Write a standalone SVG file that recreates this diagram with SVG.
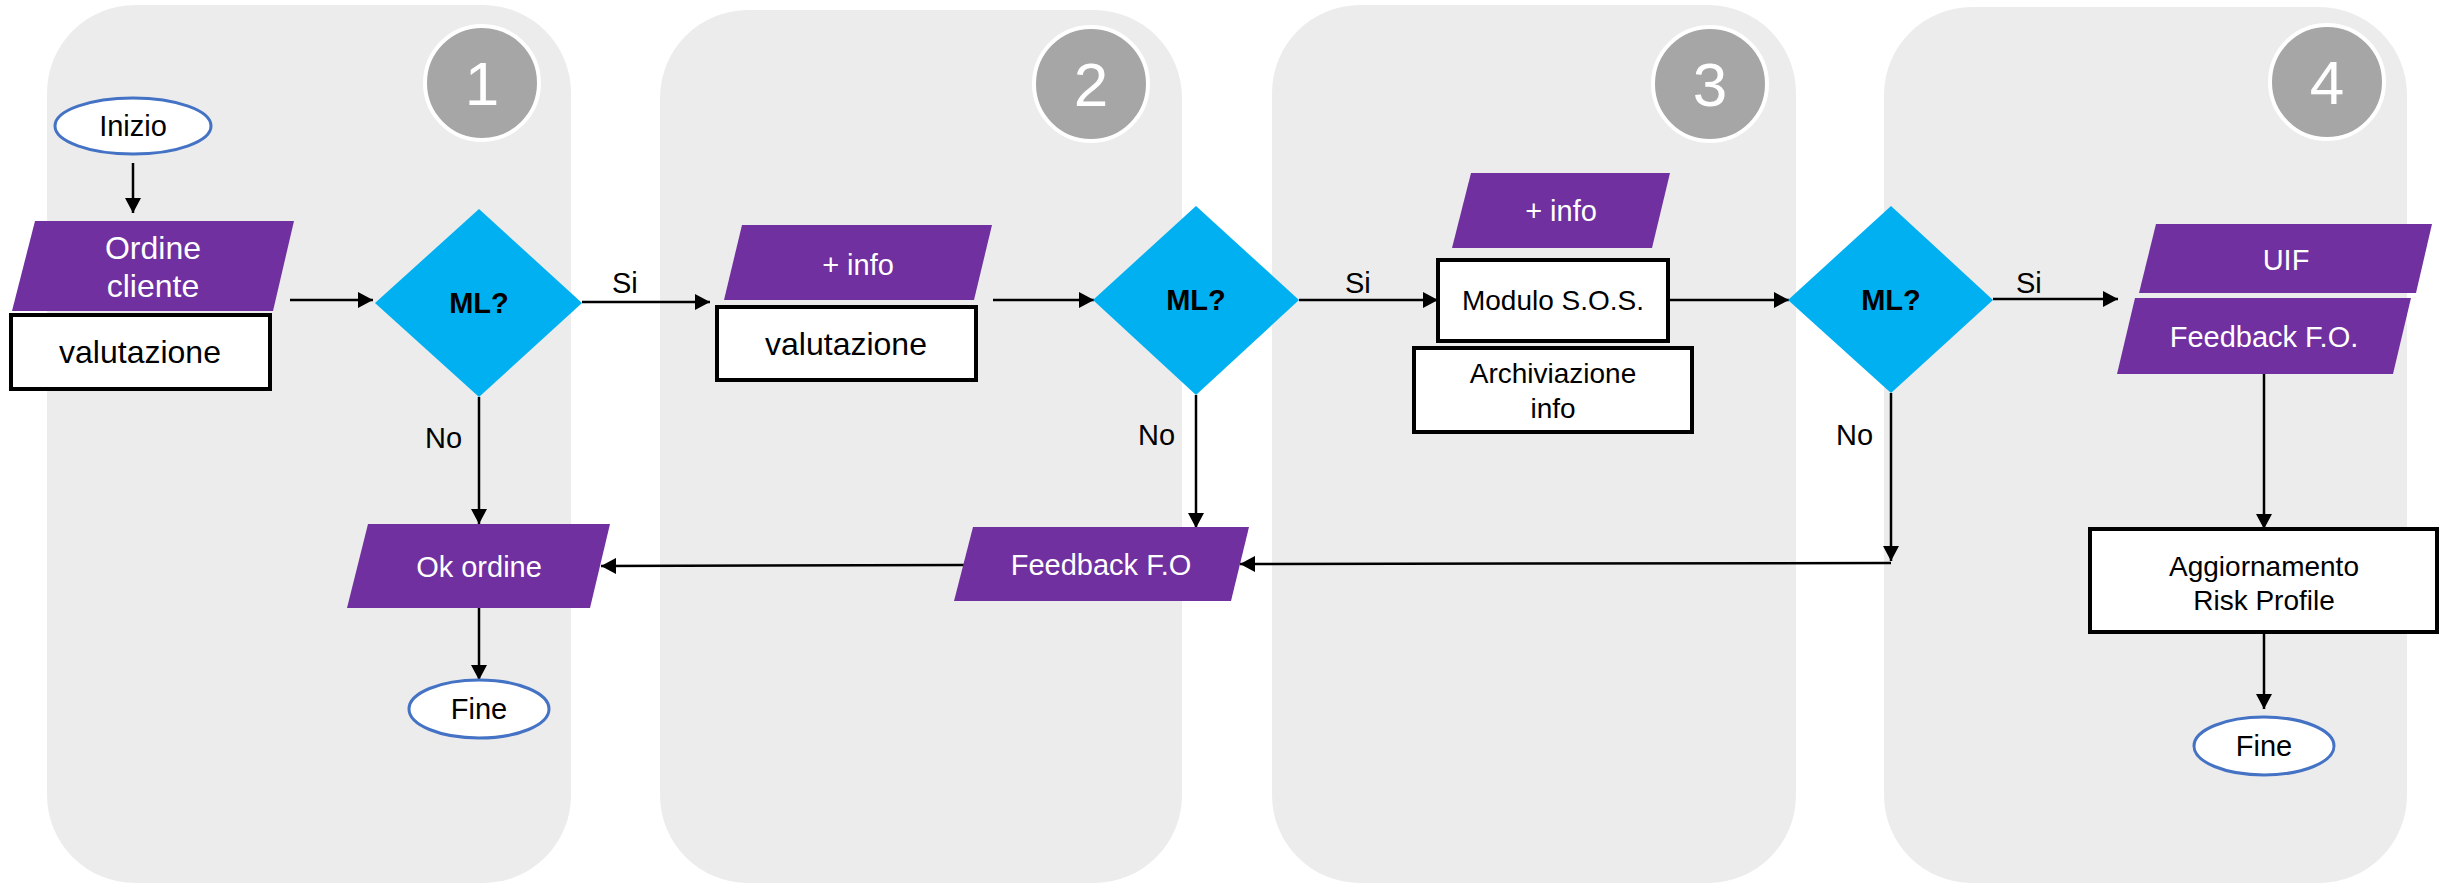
<svg xmlns="http://www.w3.org/2000/svg" width="2440" height="886" viewBox="0 0 2440 886">
<defs>
<marker id="arr" markerUnits="userSpaceOnUse" markerWidth="16" markerHeight="16" refX="15" refY="8" orient="auto">
<path d="M0,0 L15,8 L0,16 z" fill="#000"/>
</marker>
<style>
.panel{fill:#ECECEC}
.badge{fill:#A6A6A6;stroke:#fff;stroke-width:4}
.num{font-family:"Liberation Sans",Arial,sans-serif;font-size:62px;fill:#fff;text-anchor:middle}
.io{fill:#7030A0}
.proc{fill:#fff;stroke:#000;stroke-width:4}
.term{fill:#fff;stroke:#4472C4;stroke-width:3}
.dec{fill:#00B0F0}
.t{font-family:"Liberation Sans",Arial,sans-serif;font-size:29px;fill:#000;text-anchor:middle}
.w{fill:#fff}
.b{font-weight:bold}
.lbl{font-family:"Liberation Sans",Arial,sans-serif;font-size:29px;fill:#000}
.c{fill:none;stroke:#000;stroke-width:2.5;marker-end:url(#arr)}
</style>
</defs>
<g id="panels">
<rect class="panel" x="47" y="5" width="524" height="878" rx="88" ry="88"/>
<rect class="panel" x="660" y="10" width="522" height="873" rx="88" ry="88"/>
<rect class="panel" x="1272" y="5" width="524" height="878" rx="88" ry="88"/>
<rect class="panel" x="1884" y="7" width="523" height="876" rx="88" ry="88"/>
</g>
<g id="badge1"><circle class="badge" cx="482" cy="83" r="57"/><text class="num" x="482" y="105">1</text></g>
<g id="badge2"><circle class="badge" cx="1091" cy="84" r="57"/><text class="num" x="1091" y="106">2</text></g>
<g id="badge3"><circle class="badge" cx="1710" cy="84" r="57"/><text class="num" x="1710" y="106">3</text></g>
<g id="badge4"><circle class="badge" cx="2327" cy="82" r="57"/><text class="num" x="2327" y="104">4</text></g>

<g id="connectors">
<path class="c" d="M133,163 L133,213"/>
<path class="c" d="M290,300 L373,300"/>
<path class="c" d="M582,302 L710,302"/>
<path class="c" d="M479,397 L479,524"/>
<path class="c" d="M479,608 L479,680"/>
<path class="c" d="M993,300 L1094,300"/>
<path class="c" d="M1299,300 L1438,300"/>
<path class="c" d="M1196,395 L1196,528"/>
<path class="c" d="M964,565 L601,566"/>
<path class="c" d="M1669,300 L1789,300"/>
<path class="c" d="M1993,299 L2118,299"/>
<path class="c" d="M1891,393 L1891,561"/>
<path class="c" d="M1891,563 L1240,564"/>
<path class="c" d="M2264,374 L2264,529"/>
<path class="c" d="M2264,632 L2264,709"/>
<text class="lbl" x="612" y="293">Si</text>
<text class="lbl" x="1345" y="293">Si</text>
<text class="lbl" x="2016" y="293">Si</text>
<text class="lbl" x="425" y="448">No</text>
<text class="lbl" x="1138" y="445">No</text>
<text class="lbl" x="1836" y="445">No</text>
</g>

<g id="inizio"><ellipse class="term" cx="133" cy="126" rx="78" ry="28"/><text class="t" x="133" y="136">Inizio</text></g>
<g id="ordine-cliente"><polygon class="io" points="35,221 294,221 273,311 12,311"/><text class="t w" style="font-size:32px" x="153" y="259">Ordine</text><text class="t w" style="font-size:32px" x="153" y="297">cliente</text></g>
<g id="valutazione1"><rect class="proc" x="11" y="315" width="259" height="74"/><text class="t" style="font-size:32px" x="140" y="363">valutazione</text></g>
<g id="ml1"><polygon class="dec" points="479,209 582,303 479,397 375,303"/><text class="t b" x="479" y="313">ML?</text></g>
<g id="ok-ordine"><polygon class="io" points="368,524 610,524 590,608 347,608"/><text class="t w" x="479" y="577">Ok ordine</text></g>
<g id="fine1"><ellipse class="term" cx="479" cy="709" rx="70" ry="29"/><text class="t" x="479" y="719">Fine</text></g>

<g id="info2"><polygon class="io" points="742,225 992,225 974,300 724,300"/><text class="t w" x="858" y="275">+ info</text></g>
<g id="valutazione2"><rect class="proc" x="717" y="307" width="259" height="73"/><text class="t" style="font-size:32px" x="846" y="355">valutazione</text></g>
<g id="ml2"><polygon class="dec" points="1196,206 1299,300 1196,395 1093,300"/><text class="t b" x="1196" y="310">ML?</text></g>
<g id="feedback-fo"><polygon class="io" points="973,527 1249,527 1231,601 954,601"/><text class="t w" x="1101" y="575">Feedback F.O</text></g>

<g id="info3"><polygon class="io" points="1471,173 1670,173 1652,248 1452,248"/><text class="t w" x="1561" y="221">+ info</text></g>
<g id="modulo-sos"><rect class="proc" x="1438" y="260" width="230" height="81"/><text class="t" style="font-size:28px" x="1553" y="310">Modulo S.O.S.</text></g>
<g id="archiviazione"><rect class="proc" x="1414" y="348" width="278" height="84"/><text class="t" style="font-size:28px" x="1553" y="383">Archiviazione</text><text class="t" style="font-size:28px" x="1553" y="418">info</text></g>
<g id="ml3"><polygon class="dec" points="1891,206 1993,300 1891,393 1788,300"/><text class="t b" x="1891" y="310">ML?</text></g>

<g id="uif"><polygon class="io" points="2156,224 2432,224 2416,293 2139,293"/><text class="t w" x="2286" y="270">UIF</text></g>
<g id="feedback-fo4"><polygon class="io" points="2135,298 2411,298 2393,374 2117,374"/><text class="t w" x="2264" y="347">Feedback F.O.</text></g>
<g id="aggiornamento"><rect class="proc" x="2090" y="529" width="347" height="103"/><text class="t" style="font-size:28px" x="2264" y="576">Aggiornamento</text><text class="t" style="font-size:28px" x="2264" y="610">Risk Profile</text></g>
<g id="fine2"><ellipse class="term" cx="2264" cy="746" rx="70" ry="29"/><text class="t" x="2264" y="756">Fine</text></g>
</svg>
